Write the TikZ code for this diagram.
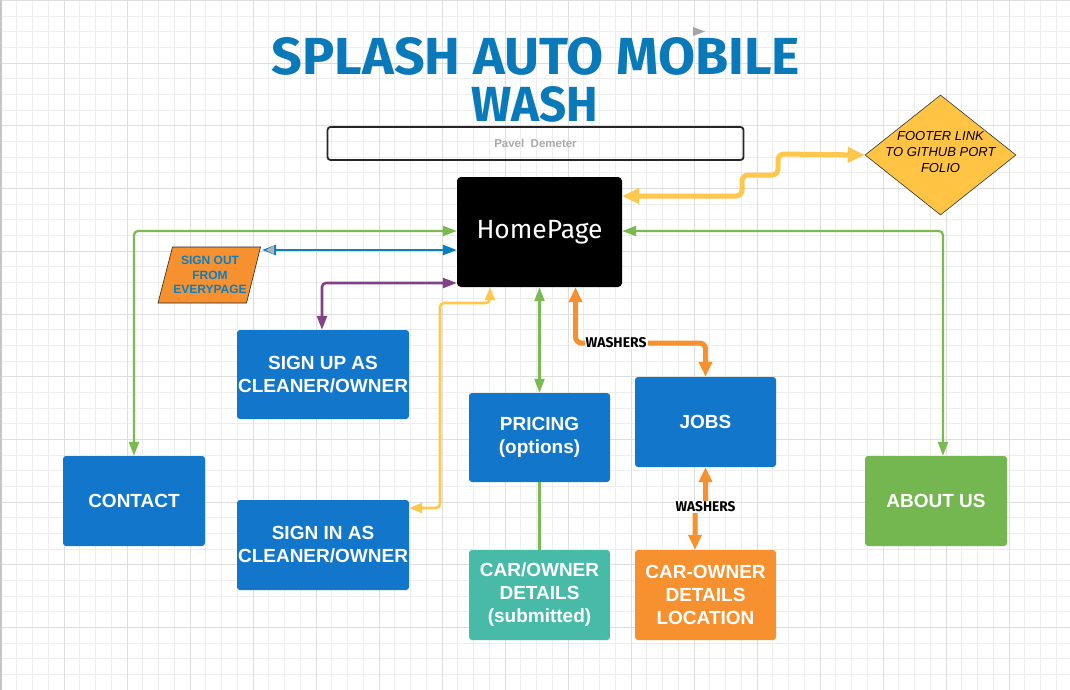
\documentclass[tikz,border=0pt]{standalone}
\usepackage{fontspec}
\setmainfont{Liberation Sans}
\newfontfamily\titlefont{Fira Sans}
\usepackage{graphicx}
\usetikzlibrary{arrows.meta,shapes.geometric}
\definecolor{boxblue}{RGB}{18,118,202}
\definecolor{titleblue}{RGB}{10,121,185}
\definecolor{gline}{RGB}{122,186,80}
\definecolor{aboutgreen}{RGB}{116,182,80}
\definecolor{teal}{RGB}{72,187,168}
\definecolor{orng}{RGB}{247,145,47}
\definecolor{dyellow}{RGB}{255,196,67}
\definecolor{yline}{RGB}{255,200,77}
\definecolor{purp}{RGB}{131,65,135}
\definecolor{bline}{RGB}{10,126,194}
\definecolor{gridminor}{RGB}{237,237,237}
\definecolor{gridmajor}{RGB}{222,222,222}
\begin{document}
\begin{tikzpicture}[x=1pt,y=-1pt,
  box/.style={rounded corners=3pt, inner sep=0pt, text=white, align=center,
    font=\fontsize{19}{23}\selectfont\bfseries},
  conn/.style={rounded corners=4pt, line cap=butt},
  greenc/.style={conn, draw=gline, line width=2.2pt, {Triangle[length=14pt,width=10pt]}-{Triangle[length=14pt,width=10pt]}},
  bluec/.style={conn, draw=bline, line width=2.8pt, {Triangle[length=14pt,width=10pt]}-{Triangle[length=14pt,width=10pt]}},
  purpc/.style={conn, draw=purp, line width=2.6pt, {Triangle[length=14pt,width=10pt]}-{Triangle[length=14pt,width=10pt]}},
  ythin/.style={conn, draw=yline, line width=2.6pt, {Triangle[length=13pt,width=10pt]}-{Triangle[length=13pt,width=10pt]}},
  ythick/.style={conn, rounded corners=6pt, draw=yline, line width=5pt, {Triangle[length=17pt,width=15pt]}-{Triangle[length=17pt,width=15pt]}},
  orc/.style={conn, rounded corners=6pt, draw=orng, line width=5pt, {Triangle[length=15pt,width=13pt]}-{Triangle[length=15pt,width=13pt]}},
  wlabel/.style={fill=white, inner sep=1pt},
]
\useasboundingbox (0,0) rectangle (1070,690);
\fill[white] (0,0) rectangle (1070,690);
% grid
\foreach \i in {0,...,68} { \draw[gridminor, line width=1pt] ({1+\i*15.75},0) -- ({1+\i*15.75},690); }
\foreach \j in {0,...,44} { \draw[gridminor, line width=1pt] (0,{0.5+\j*15.675}) -- (1070,{0.5+\j*15.675}); }
\foreach \i in {0,...,17} { \draw[gridmajor, line width=1pt] ({1+\i*63},0) -- ({1+\i*63},690); }
\foreach \j in {0,...,11} { \draw[gridmajor, line width=1pt] (0,{0.5+\j*62.7}) -- (1070,{0.5+\j*62.7}); }
\draw[gray!45, line width=2pt] (0.5,0) -- (0.5,690);

% title
\node[inner sep=0pt, text=titleblue] (title1) at (536,56.5)
  {\resizebox{528pt}{37pt}{\titlefont\bfseries SPLASH AUTO MOBILE}};
\node[inner sep=0pt, text=titleblue] (title2) at (535,104)
  {\resizebox{127pt}{35pt}{\titlefont\bfseries WASH}};
\fill[gray!70] (693,27) -- (705,31.5) -- (693,36) -- cycle;

% subtitle box
\node[draw=black!85, line width=1.8pt, rounded corners=3pt, minimum width=416pt, minimum height=33pt,
  inner sep=0pt, text=black!33, font=\fontsize{11.5}{13}\selectfont\bfseries] (author) at (535.5,143.5) {Pavel\ \ Demeter};

% main nodes
\node[fill=black, rounded corners=4pt, minimum width=165pt, minimum height=110pt, inner sep=0pt, text=white]
  (home) at (539.5,232) {\resizebox{126pt}{!}{\titlefont HomePage}};

\node[box, fill=boxblue, minimum width=172pt, minimum height=89pt] (signup) at (323,374.5) {SIGN UP AS\\CLEANER/OWNER};
\node[box, fill=boxblue, minimum width=172pt, minimum height=90pt] (signin) at (323,545) {SIGN IN AS\\CLEANER/OWNER};
\node[box, fill=boxblue, minimum width=142pt, minimum height=90pt] (contact) at (134,501) {CONTACT};
\node[box, fill=boxblue, minimum width=141pt, minimum height=89pt] (pricing) at (539.5,437.5) {PRICING\\(options)};
\node[box, fill=boxblue, minimum width=141pt, minimum height=90pt] (jobs) at (705.5,422) {JOBS};
\node[box, fill=aboutgreen, minimum width=142pt, minimum height=90pt] (about) at (936,501) {ABOUT US};
\node[box, fill=teal, minimum width=141pt, minimum height=90pt] (carowner) at (539.5,595) {CAR/OWNER\\DETAILS\\(submitted)};
\node[box, fill=orng, minimum width=141pt, minimum height=90pt] (carloc) at (705.5,595) {CAR-OWNER\\DETAILS\\LOCATION};

% footer diamond
\node[diamond, draw=black!80, line width=0.6pt, fill=dyellow, inner sep=0pt,
  minimum width=151pt, minimum height=120pt] (footer) at (940.5,155) {};
\node[align=center, inner sep=0pt, font=\fontsize{13}{15.7}\selectfont\itshape] (footertxt) at (940.5,152)
  {FOOTER LINK\\TO GITHUB PORT\\FOLIO};

% sign out parallelogram
\draw[fill=orng, draw=black!85, line width=0.6pt] (172.5,247) -- (260.5,247) -- (246.5,303) -- (158,303) -- cycle;
\node[align=center, inner sep=0pt, text=bline, font=\fontsize{12}{14.5}\selectfont\bfseries] (signout) at (210,275)
  {SIGN OUT\\FROM\\EVERYPAGE};
\coordinate (soend) at (262,250);

% connectors
\draw[greenc] ([yshift=1pt]home.west) -| (contact.north);
\draw[bluec] (soend) -- ([yshift=-18pt]home.west);
\fill[gray!60] (274,245.5) -- (274,254.5) -- (266,250) -- cycle;
\draw[purpc] ([yshift=-51pt]home.west) -| ([xshift=-1pt]signup.north);
\coordinate (yb1) at (440,303);
\draw[ythin] ([xshift=-49.5pt]home.south) |- (yb1) |- ([yshift=37pt]signin.east);
\draw[greenc] (home.south) -- (pricing.north);
\draw[gline, line width=2.2pt] (pricing.south) -- (carowner.north);
\coordinate (wa) at (616,343);
\draw[orc] ([xshift=36pt]home.south) |- (wa) -| (jobs.north);
\coordinate (wb) at (705.5,507);
\draw[orc] (jobs.south) -- (wb) -- (695,507) -- ([xshift=-10.5pt]carloc.north);
\draw[greenc] ([yshift=1pt]home.east) -| ([xshift=7pt]about.north);
\coordinate (yt1) at (742,175);
\coordinate (yt2) at (778,154);
\draw[ythick] ([yshift=36pt]home.east) -| (yt1) -| (yt2) -- (footer.west);

% washers labels
\node[wlabel] (w1) at (wa) {\resizebox{61pt}{10pt}{\titlefont\bfseries WASHERS}};
\node[wlabel] (w2) at (wb) {\resizebox{60pt}{10pt}{\titlefont\bfseries WASHERS}};
\end{tikzpicture}
\end{document}
